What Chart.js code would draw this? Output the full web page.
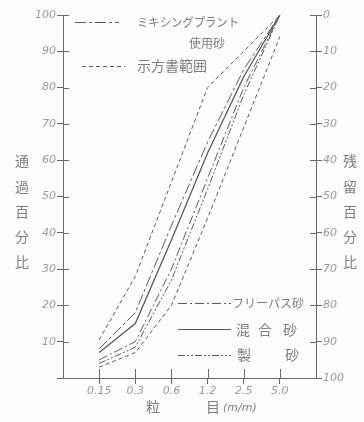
<!DOCTYPE html>
<html>
<head>
<meta charset="utf-8">
<script src="https://cdn.jsdelivr.net/npm/chart.js@4"></script>
<style>
  html, body { margin: 0; padding: 0; background: #fcfcfb; }
  #wrap { width: 364px; height: 422px; }
</style>
</head>
<body>
<div id="wrap"><canvas id="chart1" width="364" height="422"></canvas></div>
<script>
// sieve sizes (mm) and passing percentages
const sieveLabels = ['0.15', '0.3', '0.6', '1.2', '2.5', '5.0'];
const specUpper   = [10.5, 28, 54, 80, 90, 100];
const mixingPlant = [8, 18, 42, 65, 85, 100];
const mixedSand   = [7, 15, 38, 62, 83, 100];
const freePass    = [5, 10, 30, 55, 80, 100];
const crushed     = [4, 8.5, 27, 52, 78, 100];
const specLower   = [3, 7, 20, 44, 69, 94];

const leftTitle  = ['通', '過', '百', '分', '比'];
const rightTitle = ['残', '留', '百', '分', '比'];

const INK = '#5a5a5a';
const TXT = '#7e7e7e';
const DASH_SPEC = [4, 3];
const DASH_MIX = [11, 3, 3, 3];
const DASH_FREE = [9, 3, 2, 3];
const DASH_CRUSH = [7, 2, 2, 2, 2, 2];

function pts(vals) {
    return vals.map((v, i) => ({ x: i, y: v }));
}

function ds(vals, dash, width) {
    return {
        data: pts(vals),
        borderColor: INK,
        borderWidth: width || 1,
        borderDash: dash,
        pointRadius: 0,
        tension: 0,
        fill: false
    };
}

// legend entries and axis titles drawn on the canvas
const decor = {
    id: 'decor',
    afterDraw(chart) {
        const ctx = chart.ctx;
        const xs = chart.scales.x, ys = chart.scales.y, y2 = chart.scales.y2;
        ctx.save();
        ctx.strokeStyle = '#6a6a6a';
        ctx.lineWidth = 1;
        // inner halves of the tick marks
        ys.ticks.forEach(t => {
            if (t.value === 0) return;
            const py = Math.round(ys.getPixelForValue(t.value)) + 0.5;
            ctx.beginPath(); ctx.moveTo(ys.right, py); ctx.lineTo(ys.right + 6, py); ctx.stroke();
        });
        y2.ticks.forEach(t => {
            if (t.value === 100) return;
            const py = Math.round(y2.getPixelForValue(t.value)) + 0.5;
            ctx.beginPath(); ctx.moveTo(y2.left, py); ctx.lineTo(y2.left - 6, py); ctx.stroke();
        });
        xs.ticks.forEach(t => {
            const px = Math.round(xs.getPixelForValue(t.value)) + 0.5;
            ctx.beginPath(); ctx.moveTo(px, xs.top); ctx.lineTo(px, xs.top - 9); ctx.stroke();
        });

        // legend samples
        function sample(x1, x2, y, dash) {
            ctx.save();
            ctx.strokeStyle = INK;
            ctx.setLineDash(dash);
            ctx.beginPath(); ctx.moveTo(x1, y); ctx.lineTo(x2, y); ctx.stroke();
            ctx.restore();
        }
        sample(75, 119, 22.5, DASH_MIX);
        sample(82, 125, 66.5, DASH_SPEC);
        sample(178, 231, 303.5, DASH_FREE);
        sample(178, 231, 329.5, []);
        sample(178, 231, 355.5, DASH_CRUSH);

        ctx.fillStyle = TXT;
        ctx.textBaseline = 'middle';
        ctx.textAlign = 'left';
        ctx.font = '12px "Noto Sans CJK JP"';
        ctx.fillText('ミキシングプラント', 137, 22, 102);
        ctx.fillText('使用砂', 189, 43, 56);
        ctx.font = '14px "Noto Sans CJK JP"';
        ctx.fillText('示方書範囲', 137, 66, 82);
        ctx.font = '12px "Noto Sans CJK JP"';
        ctx.fillText('フリーパス砂', 232, 303, 74);
        ctx.font = '14px "Noto Sans CJK JP"';
        ctx.textAlign = 'center';
        ctx.fillText('混', 243, 330);
        ctx.fillText('合', 265, 330);
        ctx.fillText('砂', 290, 330);
        ctx.fillText('製', 244, 355);
        ctx.fillText('砂', 292, 355);

        // vertical axis titles
        const rows = [161, 187, 212, 237, 262];
        leftTitle.forEach((c, i) => ctx.fillText(c, 22, rows[i]));
        rightTitle.forEach((c, i) => ctx.fillText(c, 350, rows[i]));

        // x axis title
        ctx.fillText('粒', 153, 407);
        ctx.fillText('目', 213, 407);
        ctx.font = 'italic 11px "DejaVu Sans"';
        ctx.textAlign = 'left';
        ctx.fillText('(m/m)', 223, 408);
        ctx.restore();
    }
};

const ctx = document.getElementById('chart1');

new Chart(ctx, {
    type: 'line',
    data: {
        datasets: [
            ds(specUpper, DASH_SPEC),
            ds(mixingPlant, DASH_MIX),
            ds(mixedSand, [], 1.3),
            ds(freePass, DASH_FREE),
            ds(crushed, DASH_CRUSH),
            ds(specLower, DASH_SPEC)
        ]
    },
    options: {
        responsive: false,
        animation: false,
        layout: { padding: { top: 15, left: 0, right: 0, bottom: 0 } },
        plugins: { legend: { display: false }, tooltip: { enabled: false } },
        scales: {
            x: {
                type: 'linear',
                min: -1,
                max: 6,
                afterBuildTicks: s => { s.ticks = sieveLabels.map((l, i) => ({ value: i })); },
                afterFit: s => { s.height = 44; },
                grid: { drawOnChartArea: false, color: '#6a6a6a', tickLength: 6 },
                border: { color: '#6a6a6a' },
                ticks: {
                    color: '#9a9a9a',
                    padding: 1,
                    font: { family: 'DejaVu Sans', style: 'italic', size: 11 },
                    callback: v => sieveLabels[v]
                }
            },
            y: {
                position: 'left',
                min: 0,
                max: 100,
                afterFit: s => { s.width = 63; },
                grid: { drawOnChartArea: false, color: '#6a6a6a', tickLength: 6 },
                border: { color: '#6a6a6a' },
                ticks: {
                    stepSize: 10,
                    color: '#9a9a9a',
                    padding: 1,
                    font: { family: 'DejaVu Sans', style: 'italic', size: 11 },
                    callback: v => v === 0 ? '' : v
                }
            },
            y2: {
                position: 'right',
                reverse: true,
                min: 0,
                max: 100,
                afterFit: s => { s.width = 48; },
                grid: { drawOnChartArea: false, color: '#6a6a6a', tickLength: 6 },
                border: { color: '#6a6a6a' },
                ticks: {
                    stepSize: 10,
                    color: '#9a9a9a',
                    padding: 1,
                    font: { family: 'DejaVu Sans', style: 'italic', size: 11 }
                }
            }
        }
    },
    plugins: [decor]
});
</script>
</body>
</html>
